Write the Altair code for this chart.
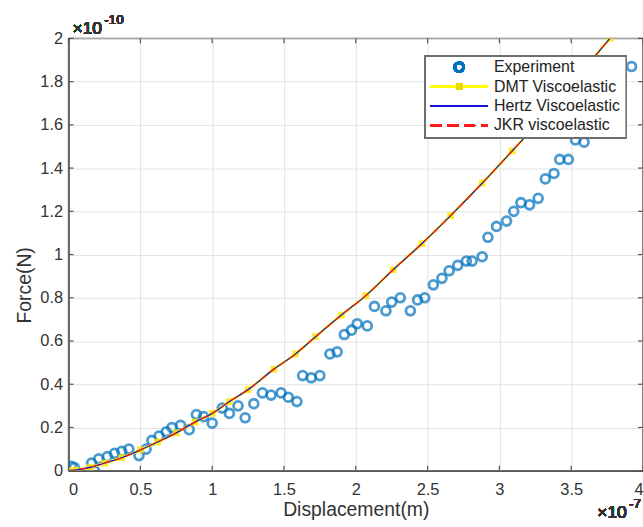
import altair as alt
import pandas as pd

# Displacement in units of 1e-7 m, force in units of 1e-10 N
exp_x = [0.02, 0.04, 0.16, 0.18, 0.21, 0.27, 0.32, 0.37, 0.42, 0.49,
         0.54, 0.58, 0.63, 0.68, 0.72, 0.78, 0.84, 0.89, 0.94, 1.00,
         1.07, 1.12, 1.18, 1.23, 1.29, 1.35, 1.41, 1.48, 1.53, 1.59,
         1.63, 1.69, 1.75, 1.82, 1.87, 1.92, 1.97, 2.01, 2.08, 2.13,
         2.21, 2.25, 2.31, 2.38, 2.43, 2.48, 2.54, 2.60, 2.65, 2.71,
         2.77, 2.81, 2.88, 2.92, 2.98, 3.05, 3.10, 3.15, 3.21, 3.27,
         3.32, 3.38, 3.42, 3.48, 3.53, 3.59, 3.64, 3.70, 3.76, 3.83,
         3.92]
exp_y = [0.02, 0.015, 0.035, 0.0, 0.055, 0.065, 0.08, 0.09, 0.10, 0.07,
         0.10, 0.14, 0.16, 0.18, 0.20, 0.21, 0.19, 0.26, 0.25, 0.22,
         0.29, 0.265, 0.30, 0.245, 0.31, 0.36, 0.35, 0.36, 0.34, 0.32,
         0.44, 0.43, 0.44, 0.54, 0.55, 0.63, 0.65, 0.68, 0.67, 0.76,
         0.74, 0.78, 0.80, 0.74, 0.79, 0.80, 0.86, 0.89, 0.925, 0.95,
         0.97, 0.97, 0.99, 1.08, 1.13, 1.155, 1.20, 1.24, 1.23, 1.26,
         1.35, 1.375, 1.44, 1.44, 1.53, 1.52, 1.60, 1.66, 1.73, 1.85,
         1.87]

model_x = [0.0, 0.05, 0.15, 0.25, 0.37, 0.50, 0.62, 0.75, 0.88, 1.00,
           1.12, 1.25, 1.43, 1.58, 1.72, 1.90, 2.07, 2.26, 2.46, 2.66,
           2.88, 3.09, 3.31, 3.54, 3.77]
dmt_y = [0.0, 0.003, 0.016, 0.035, 0.06, 0.096, 0.133, 0.175, 0.225, 0.265,
         0.32, 0.375, 0.47, 0.54, 0.62, 0.72, 0.81, 0.93, 1.05, 1.18,
         1.33, 1.48, 1.64, 1.82, 2.0]
hertz_y = [0.0, 0.003, 0.016, 0.035, 0.06, 0.096, 0.133, 0.175, 0.225, 0.265,
           0.32, 0.375, 0.47, 0.54, 0.62, 0.72, 0.81, 0.93, 1.05, 1.18,
           1.33, 1.48, 1.64, 1.82, 2.0]
jkr_y = [0.0, 0.003, 0.016, 0.035, 0.06, 0.096, 0.133, 0.175, 0.225, 0.265,
         0.32, 0.375, 0.47, 0.54, 0.62, 0.72, 0.81, 0.93, 1.05, 1.18,
         1.33, 1.48, 1.64, 1.82, 2.0]

x_ticks = [0, 0.5, 1, 1.5, 2, 2.5, 3, 3.5, 4]
y_ticks = [0, 0.2, 0.4, 0.6, 0.8, 1, 1.2, 1.4, 1.6, 1.8, 2]

legend_labels = ["Experiment", "DMT Viscoelastic", "Hertz Viscoelastic", "JKR viscoelastic"]

FONT = "Liberation Sans"
AXIS_COLOR = "#555555"
TEXT_COLOR = "#333333"
W, H = 578, 435

exp_df = pd.DataFrame({"x": exp_x, "y": exp_y})
model_df = pd.DataFrame({"x": model_x, "dmt": dmt_y, "hertz": hertz_y, "jkr": jkr_y})
xt_df = pd.DataFrame({"v": x_ticks})
yt_df = pd.DataFrame({"v": y_ticks})

xscale = alt.Scale(domain=[0, 4], nice=False, zero=False)
yscale = alt.Scale(domain=[0, 2], nice=False, zero=False)

x_axis = alt.Axis(values=x_ticks, format="~g", grid=True, ticks=False,
                  labelPadding=11, title="Displacement(m)",
                  titleBaseline="alphabetic", titleY=45)
y_axis = alt.Axis(values=y_ticks, format="~g", grid=True, ticks=False,
                  labelPadding=6, title="Force(N)",
                  titleX=-44, titleY=248, titleBaseline="middle")

base_x = alt.X("x:Q", scale=xscale, axis=x_axis)
base_y = alt.Y("y:Q", scale=yscale, axis=y_axis)

experiment = alt.Chart(exp_df).mark_point(
    shape="circle", filled=False, size=80, strokeWidth=2.8, color="#0072BD", clip=True
).encode(x=base_x, y=base_y)

dmt_line = alt.Chart(model_df).mark_line(
    color="#ffff00", strokeWidth=2.5, interpolate="monotone", clip=True
).encode(x=alt.X("x:Q", scale=xscale), y=alt.Y("dmt:Q", scale=yscale))
dmt_pts = alt.Chart(model_df).mark_square(
    color="#ffe600", size=46, opacity=0.85, clip=True
).encode(x=alt.X("x:Q", scale=xscale), y=alt.Y("dmt:Q", scale=yscale))
hertz_line = alt.Chart(model_df).mark_line(
    color="#1414d2", strokeWidth=1.3, interpolate="monotone", clip=True
).encode(x=alt.X("x:Q", scale=xscale), y=alt.Y("hertz:Q", scale=yscale))
jkr_line = alt.Chart(model_df).mark_line(
    color="#ff1a1a", strokeWidth=1.3, strokeDash=[7, 5], interpolate="monotone", clip=True
).encode(x=alt.X("x:Q", scale=xscale), y=alt.Y("jkr:Q", scale=yscale))

# inward tick marks on all four sides
tick_len = 5
tick_style = dict(color=AXIS_COLOR, strokeWidth=1.2)
ticks_bottom = alt.Chart(xt_df).mark_rule(**tick_style).encode(
    x=alt.X("v:Q", scale=xscale), y=alt.value(H), y2=alt.value(H - tick_len))
ticks_top = alt.Chart(xt_df).mark_rule(**tick_style).encode(
    x=alt.X("v:Q", scale=xscale), y=alt.value(0), y2=alt.value(tick_len))
ticks_left = alt.Chart(yt_df).mark_rule(**tick_style).encode(
    y=alt.Y("v:Q", scale=yscale), x=alt.value(0), x2=alt.value(tick_len))
ticks_right = alt.Chart(yt_df).mark_rule(**tick_style).encode(
    y=alt.Y("v:Q", scale=yscale), x=alt.value(W), x2=alt.value(W - tick_len))

# exponent annotations
exp_text_style = dict(font=FONT, color=TEXT_COLOR, align="left", baseline="alphabetic")
y_exp_base = alt.Chart(exp_df).mark_text(text="×10", fontSize=17.5, **exp_text_style).encode(
    x=alt.value(4), y=alt.value(-4))
y_exp_sup = alt.Chart(exp_df).mark_text(text="-10", fontSize=13.5, **exp_text_style).encode(
    x=alt.value(36), y=alt.value(-14))
x_exp_base = alt.Chart(exp_df).mark_text(text="×10", fontSize=17.5, **exp_text_style).encode(
    x=alt.value(532), y=alt.value(H + 48))
x_exp_sup = alt.Chart(exp_df).mark_text(text="-7", fontSize=13.5, **exp_text_style).encode(
    x=alt.value(564), y=alt.value(H + 38))

# legend box
lg_left, lg_right, lg_top, lg_bottom = 359, 561, 18, 100
row_y = [29 + 19.5 * i for i in range(4)]
sym_x0, sym_x1, sym_mid = 364, 422, 393
lg_box = alt.Chart(exp_df).mark_rect(
    fill="white", stroke="#6e6e6e", strokeWidth=1.4
).encode(x=alt.value(lg_left), x2=alt.value(lg_right), y=alt.value(lg_top), y2=alt.value(lg_bottom))
lg_df = pd.DataFrame({"label": legend_labels, "ly": row_y})
lg_text = alt.Chart(lg_df).mark_text(
    font=FONT, fontSize=16, color="#222222", align="left", baseline="middle"
).encode(x=alt.value(428), y=alt.Y("ly:Q", scale=None), text="label:N")
lg_circle = alt.Chart(exp_df).mark_point(
    shape="circle", filled=False, size=80, strokeWidth=2.8, color="#0072BD"
).encode(x=alt.value(sym_mid), y=alt.value(row_y[0]))
lg_dmt = alt.Chart(exp_df).mark_rule(color="#ffff00", strokeWidth=3).encode(
    x=alt.value(sym_x0), x2=alt.value(sym_x1), y=alt.value(row_y[1]))
lg_dmt_pt = alt.Chart(exp_df).mark_square(color="#e8d800", size=36).encode(
    x=alt.value(sym_mid), y=alt.value(row_y[1]))
lg_hertz = alt.Chart(exp_df).mark_rule(color="#1414d2", strokeWidth=1.6).encode(
    x=alt.value(sym_x0), x2=alt.value(sym_x1), y=alt.value(row_y[2]))
lg_jkr = alt.Chart(exp_df).mark_rule(color="#ff1a1a", strokeWidth=1.6, strokeDash=[11, 6]).encode(
    x=alt.value(sym_x0), x2=alt.value(sym_x1), y=alt.value(row_y[3]))

chart = alt.layer(
    experiment, dmt_line, dmt_pts, hertz_line, jkr_line,
    ticks_bottom, ticks_top, ticks_left, ticks_right,
    y_exp_base, y_exp_sup, x_exp_base, x_exp_sup,
    lg_box, lg_text, lg_circle, lg_dmt, lg_dmt_pt, lg_hertz, lg_jkr,
).properties(
    width=W, height=H,
    autosize=alt.AutoSizeParams(type="none"),
    padding={"left": 69, "top": 37, "right": 0, "bottom": 55},
    background="white",
).configure_view(
    stroke=AXIS_COLOR, strokeWidth=1.5
).configure_axis(
    labelFont=FONT, titleFont=FONT, labelFontSize=16.5, titleFontSize=19.5,
    labelColor=TEXT_COLOR, titleColor=TEXT_COLOR, titleFontWeight="normal",
    gridColor="#e2e2e2", gridWidth=1, domainColor=AXIS_COLOR, domainWidth=1.5,
)

chart.save("out.html", embed_options={"renderer": "svg", "actions": False})
